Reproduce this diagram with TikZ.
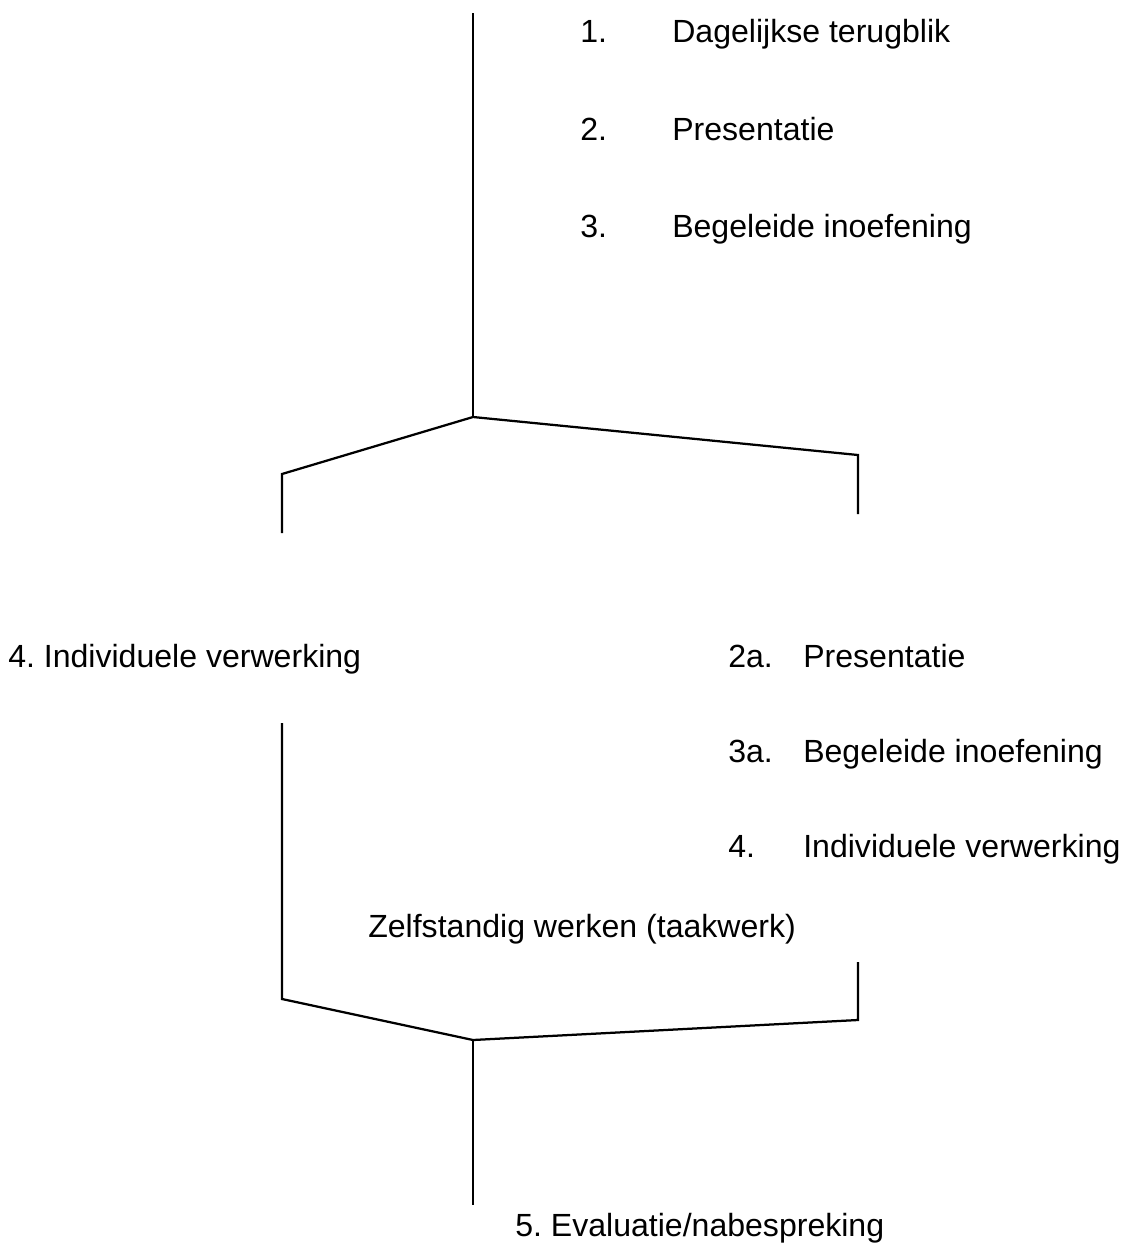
\documentclass[tikz,border=0pt]{standalone}
\usepackage{fontspec}
\setmainfont{Liberation Sans}
\usetikzlibrary{positioning}
\frenchspacing
\tikzset{
item/.style={anchor=base west, inner sep=0pt, font=\fontsize{22.8}{27}\selectfont},
branch/.style={line width=1.6pt, line join=miter}
}
\begin{document}
\begin{tikzpicture}[x=0.025cm, y=-0.025cm]
\useasboundingbox (0,0) rectangle (1122,1245);
\node[item] (n1) at (580,42) {1.};
\node[item] (t1) at (672,42) {Dagelijkse terugblik};
\node[item] (n2) at (580,140) {2.};
\node[item] (t2) at (672,140) {Presentatie};
\node[item] (n3) at (580,237) {3.};
\node[item] (t3) at (672,237) {Begeleide inoefening};
\node[item] (ind) at (8,667) {4. Individuele verwerking};
\node[item] (n2a) at (728,667) {2a.};
\node[item] (t2a) at (803,667) {Presentatie};
\node[item] (n3a) at (728,762) {3a.};
\node[item] (t3a) at (803,762) {Begeleide inoefening};
\node[item] (n4) at (728,857) {4.};
\node[item] (t4) at (803,857) {Individuele verwerking};
\node[item] (zelf) at (368,937) {Zelfstandig werken (taakwerk)};
\node[item] (eval) at (515,1236) {5. Evaluatie/nabespreking};
\coordinate (top) at (473,13);
\coordinate (split) at (473,417);
\coordinate (lknee) at (282,474);
\coordinate (lend) at (282,533);
\coordinate (rknee) at (858,455);
\coordinate (rend) at (858,514);
\coordinate (lstart) at (282,723);
\coordinate (lbend) at (282,999);
\coordinate (rstart) at (858,962);
\coordinate (rbend) at (858,1020);
\coordinate (join) at (473,1040);
\coordinate (bottom) at (473,1205);
\draw[branch] (top) -- (split);
\draw[branch] (lend) -- (lknee) -- (split) -- (rknee) -- (rend);
\draw[branch] (lstart) -- (lbend) -- (join) -- (rbend) -- (rstart);
\draw[branch] (join) -- (bottom);
\end{tikzpicture}
\end{document}
